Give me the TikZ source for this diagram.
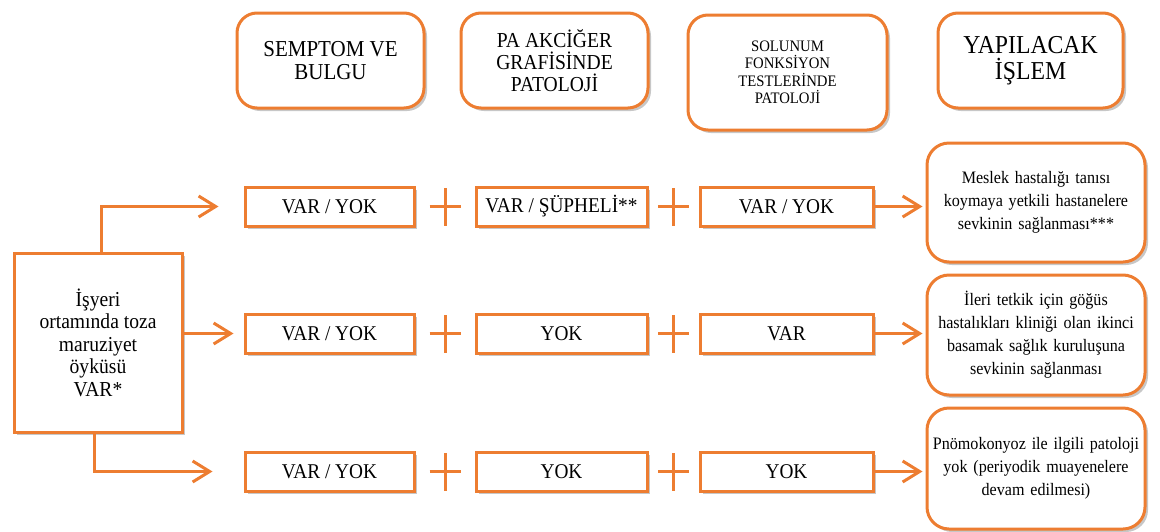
\documentclass[tikz,border=0pt]{standalone}
\usepackage{fontspec}
\setmainfont{Liberation Serif}[FakeStretch=0.92]
\usetikzlibrary{arrows.meta,shadows,calc}
\definecolor{turuncu}{RGB}{237,125,49}

\tikzset{
  kutu/.style={draw=turuncu,line width=3pt,fill=white,align=center,inner sep=2pt,
    drop shadow={shadow xshift=3pt,shadow yshift=-3pt,opacity=0.22,fill=black}},
  baslik/.style={kutu,rounded corners=20pt},
  secenek/.style={kutu,minimum height=39pt,font=\fontsize{21}{22}\selectfont},
  sonuc/.style={kutu,rounded corners=22pt,minimum width=218pt,text width=214pt,inner sep=1pt,
    font=\fontsize{17.5}{23}\selectfont},
  ok/.style={draw=turuncu,line width=3pt,-{Straight Barb[length=17pt,width=21pt]}},
  arti/.style={draw=turuncu,line width=3pt},
}

\begin{document}
\begin{tikzpicture}[x=1pt,y=-1pt]
\useasboundingbox (0,0) rectangle (1160,531);

% basliklar
\node[baslik,minimum width=187pt,minimum height=95pt,font=\fontsize{22.8}{23.5}\selectfont] (h1) at (330.5,60.5) {SEMPTOM VE\\BULGU};
\node[baslik,minimum width=187pt,minimum height=95pt,font=\fontsize{21.3}{22}\selectfont] (h2) at (554.5,60.5) {PA AKCİĞER\\GRAFİSİNDE\\PATOLOJİ};
\node[baslik,minimum width=199pt,minimum height=115pt,font=\fontsize{16}{17.5}\selectfont] (h3) at (787.5,72.5) {SOLUNUM\\FONKSİYON\\TESTLERİNDE\\PATOLOJİ};
\node[baslik,minimum width=185pt,minimum height=95pt,font=\fontsize{25.8}{26}\selectfont] (h4) at (1030.5,60.5) {YAPILACAK\\İŞLEM};

% sol kutu
\node[kutu,minimum width=168pt,minimum height=179pt,font=\fontsize{21.3}{22.5}\selectfont] (sol) at (98,342.5) {İşyeri\\ortamında toza\\maruziyet\\öyküsü\\VAR*};

% satirlar
\node[secenek,minimum width=169pt] (a1) at (329.5,206.5) {VAR / YOK};
\node[secenek,minimum width=171pt] (b1) at (561.5,206.5) {VAR / ŞÜPHELİ**};
\node[secenek,minimum width=173pt] (c1) at (786.5,206.5) {VAR / YOK};

\node[secenek,minimum width=169pt] (a2) at (329.5,333.5) {VAR / YOK};
\node[secenek,minimum width=171pt] (b2) at (561.5,333.5) {YOK};
\node[secenek,minimum width=173pt] (c2) at (786.5,333.5) {VAR};

\node[secenek,minimum width=169pt] (a3) at (329.5,471.5) {VAR / YOK};
\node[secenek,minimum width=171pt] (b3) at (561.5,471.5) {YOK};
\node[secenek,minimum width=173pt] (c3) at (786.5,471.5) {YOK};

% sonuclar
\node[sonuc,minimum height=119pt] (r1) at (1036,202.5) {Meslek hastalığı tanısı\\koymaya yetkili hastanelere\\sevkinin sağlanması***};
\node[sonuc,minimum height=120pt] (r2) at (1036,335) {İleri tetkik için göğüs\\hastalıkları kliniği olan ikinci\\basamak sağlık kuruluşuna\\sevkinin sağlanması};
\node[sonuc,minimum height=121pt] (r3) at (1036,468.5) {Pnömokonyoz ile ilgili patoloji\\yok (periyodik muayenelere\\devam edilmesi)};

% artilar
\foreach \s in {1,2,3}{
  \coordinate (p\s) at ($(a\s.east)!0.5!(b\s.west)$);
  \coordinate (q\s) at ($(b\s.east)!0.5!(c\s.west)$);
  \foreach \m in {p,q}{
    \draw[arti] ([xshift=-15.5pt]\m\s) -- ([xshift=15.5pt]\m\s);
    \draw[arti] ([yshift=-19pt]\m\s) -- ([yshift=19pt]\m\s);
  }
}

% oklar
\draw[ok] ([xshift=3pt]sol.north) |- ([xshift=-25pt]a1.west);
\draw[ok] (sol.east |- a2.west) -- ([xshift=-10pt]a2.west);
\draw[ok] ([xshift=-4pt]sol.south) |- ([xshift=-31pt]a3.west);

\foreach \s in {1,2,3}
  \draw[ok] (c\s.east) -- ([xshift=-3pt]c\s.east -| r\s.west);

\end{tikzpicture}
\end{document}
